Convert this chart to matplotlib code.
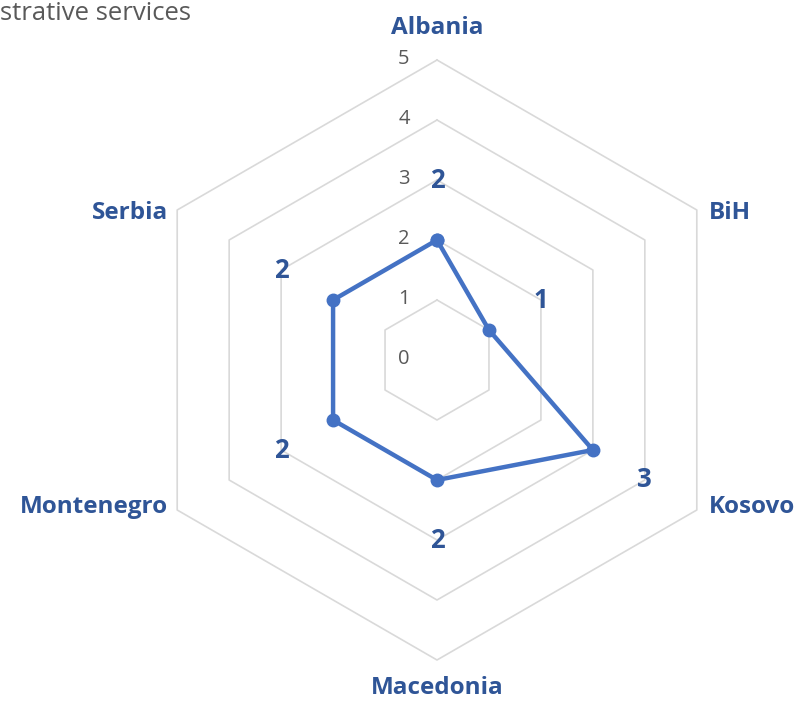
import numpy as np
import matplotlib.pyplot as plt

# Scores per country, clockwise from the top
countries = ['Albania', 'BiH', 'Kosovo', 'Macedonia', 'Montenegro', 'Serbia']
scores = [2, 1, 3, 2, 2, 2]
ring_values = [1, 2, 3, 4, 5]
tick_values = [0, 1, 2, 3, 4, 5]
title = 'strative services'

LINE_BLUE = '#4472C4'
TEXT_BLUE = '#2F5597'
GRID_GRAY = '#D9D9D9'
TICK_GRAY = '#595959'

plt.rcParams['font.family'] = ['Open Sans', 'DejaVu Sans']

# axis angles: first category at the top, going clockwise
angles = np.pi / 2 - np.arange(len(countries)) * 2 * np.pi / len(countries)
cos_a, sin_a = np.cos(angles), np.sin(angles)

fig = plt.figure(figsize=(8.06, 7.01), dpi=100)
ax = fig.add_axes([0, 0, 1, 1])
unit = 60.0  # pixels per score unit
ax.set_xlim(-437 / unit, (806 - 437) / unit)
ax.set_ylim(-(701 - 360) / unit, 360 / unit)
ax.axis('off')

# hexagonal grid rings
for r in ring_values:
    xs = np.append(r * cos_a, r * cos_a[0])
    ys = np.append(r * sin_a, r * sin_a[0])
    ax.plot(xs, ys, color=GRID_GRAY, lw=1.2, zorder=1)

# radial scale labels along the top axis
for v in tick_values:
    ax.text(-0.55, v + 0.02, str(v), ha='center', va='center', fontsize=14.5,
            color=TICK_GRAY)

# data polygon
vals = np.array(scores, dtype=float)
px = np.append(vals * cos_a, vals[0] * cos_a[0])
py = np.append(vals * sin_a, vals[0] * sin_a[0])
ax.plot(px, py, color=LINE_BLUE, lw=3.2, marker='o', ms=9,
        solid_joinstyle='round', zorder=3)

# value labels, one unit outside each point
for v, c, s in zip(scores, cos_a, sin_a):
    ax.text((v + 1) * c, (v + 1) * s, str(v), ha='center', va='center',
            fontsize=18.5, fontweight='bold', color=TEXT_BLUE)

# category labels just outside the outer ring
rmax = ring_values[-1]
for name, c, s in zip(countries, cos_a, sin_a):
    if abs(c) < 1e-6:
        ha = 'center'
        dx, dy = 0, (0.53 if s > 0 else 0.47) * np.sign(s)
    elif c > 0:
        ha = 'left'
        dx, dy = 0.2, -0.05 * np.sign(s)
    else:
        ha = 'right'
        dx, dy = -0.15, -0.05 * np.sign(s)
    ax.text(rmax * c + dx, rmax * s + dy, name, ha=ha, va='center',
            fontsize=17.5, fontweight='bold', color=TEXT_BLUE)

fig.text(0.0, 1 - 14 / 701, title, ha='left', va='center',
         fontsize=18.5, color=TICK_GRAY)

fig.savefig('out.png', dpi=100)
